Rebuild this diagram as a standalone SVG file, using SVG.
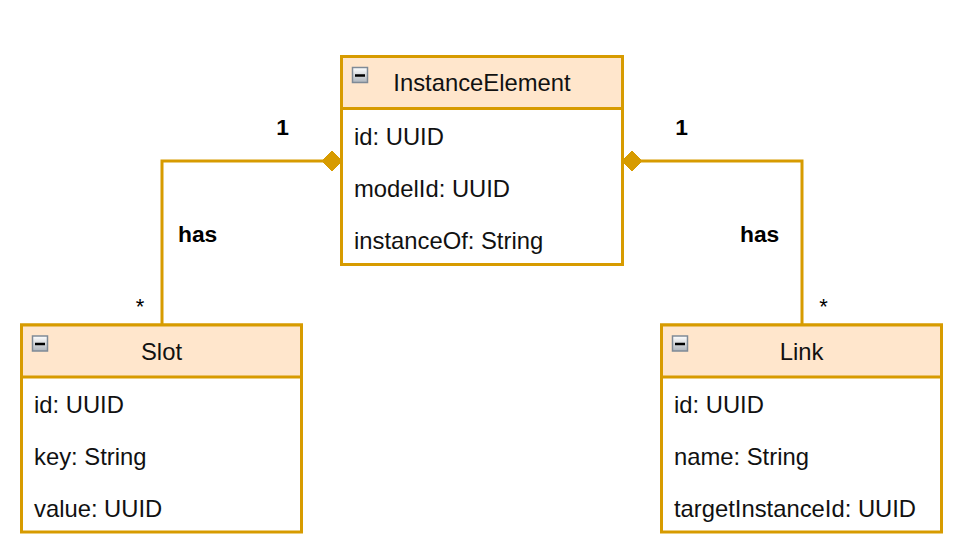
<svg xmlns="http://www.w3.org/2000/svg" width="958" height="557" viewBox="0 0 958 557">
  <defs>
    <linearGradient id="iconGrad" x1="0" y1="0" x2="0" y2="1">
      <stop offset="0" stop-color="#ffffff"/>
      <stop offset="1" stop-color="#aeb4bb"/>
    </linearGradient>
    <style>
      .box { fill: #ffffff; stroke: #d79b00; stroke-width: 3; }
      .head { fill: #ffe6cc; stroke: #d79b00; stroke-width: 3; }
      .title { font-family: "Liberation Sans", Arial, sans-serif; font-size: 23.8px; fill: #111111; text-anchor: middle; }
      .attr { font-family: "Liberation Sans", Arial, sans-serif; font-size: 23.8px; fill: #111111; }
      .icon { fill: url(#iconGrad); stroke: #7f8a96; stroke-width: 1.5; }
      .minus { stroke: #000000; stroke-width: 2.5; }
      .edge { fill: none; stroke: #d79b00; stroke-width: 3; }
      .diamond { fill: #d79b00; stroke: #d79b00; stroke-width: 1; }
      .lbl { font-family: "Liberation Sans", Arial, sans-serif; font-size: 22.8px; fill: #000000; font-weight: bold; }
      .mult { font-family: "Liberation Sans", Arial, sans-serif; font-size: 22px; fill: #000000; }
    </style>
  </defs>

  <g id="connectors">
    <path class="edge" d="M162,325 V161 H324"/>
    <polygon class="diamond" points="342,161 332,151 322,161 332,171"/>
    <path class="edge" d="M802,325 V161 H640"/>
    <polygon class="diamond" points="622,161 632,151 642,161 632,171"/>
    <text class="lbl" x="282.5" y="135" text-anchor="middle">1</text>
    <text class="lbl" x="178" y="242">has</text>
    <text class="mult" x="140" y="314" text-anchor="middle">*</text>
    <text class="lbl" x="681.5" y="135" text-anchor="middle">1</text>
    <text class="lbl" x="740" y="242">has</text>
    <text class="mult" x="823.5" y="314" text-anchor="middle">*</text>
  </g>

  <g id="InstanceElement">
    <rect class="box" x="341.5" y="56.5" width="281" height="208"/>
    <rect class="head" x="341.5" y="56.5" width="281" height="52"/>
    <rect class="icon" x="352.5" y="67.5" width="15" height="15"/>
    <line class="minus" x1="355" y1="75.5" x2="365" y2="75.5"/>
    <text class="title" x="482" y="91">InstanceElement</text>
    <text class="attr" x="354" y="144.5">id: UUID</text>
    <text class="attr" x="354" y="196.5">modelId: UUID</text>
    <text class="attr" x="354" y="248.5">instanceOf: String</text>
  </g>

  <g id="Slot">
    <rect class="box" x="21.5" y="325" width="280" height="207"/>
    <rect class="head" x="21.5" y="325" width="280" height="52"/>
    <rect class="icon" x="32.5" y="336" width="15" height="15"/>
    <line class="minus" x1="35" y1="344" x2="45" y2="344"/>
    <text class="title" x="161.5" y="359.5">Slot</text>
    <text class="attr" x="34" y="413">id: UUID</text>
    <text class="attr" x="34" y="465">key: String</text>
    <text class="attr" x="34" y="517">value: UUID</text>
  </g>

  <g id="Link">
    <rect class="box" x="661.5" y="325" width="280" height="207"/>
    <rect class="head" x="661.5" y="325" width="280" height="52"/>
    <rect class="icon" x="672.5" y="336" width="15" height="15"/>
    <line class="minus" x1="675" y1="344" x2="685" y2="344"/>
    <text class="title" x="801.5" y="359.5">Link</text>
    <text class="attr" x="674" y="413">id: UUID</text>
    <text class="attr" x="674" y="465">name: String</text>
    <text class="attr" x="674" y="517">targetInstanceId: UUID</text>
  </g>
</svg>
